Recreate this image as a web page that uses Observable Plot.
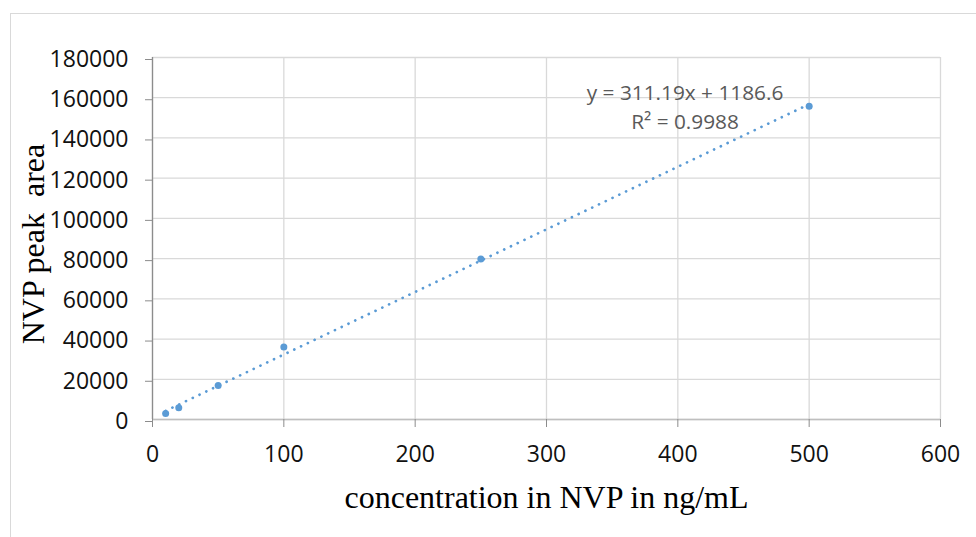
<!DOCTYPE html>
<html>
<head>
<meta charset="utf-8">
<script src="https://cdn.jsdelivr.net/npm/d3@7"></script>
<script src="https://cdn.jsdelivr.net/npm/@observablehq/plot@0.6"></script>
<style>
  html, body { margin: 0; padding: 0; background: #fff; }
  #wrap { position: relative; width: 976px; height: 537px; overflow: hidden; background: #fff; }
  #frame { position: absolute; left: 10px; top: 13px; width: 980px; height: 540px; border: 1px solid #d9d9d9; box-sizing: border-box; pointer-events: none; }
  #chart { position: absolute; left: 0; top: 0; }
</style>
</head>
<body>
<div id="wrap"><div id="frame"></div><div id="chart"></div></div>
<script>
// Data
const concentrations = [10, 20, 50, 100, 250, 500];
const peakAreas = [3000, 5800, 16900, 36000, 79800, 155800];
const xTicks = [0, 100, 200, 300, 400, 500, 600];
const yTicks = [0, 20000, 40000, 60000, 80000, 100000, 120000, 140000, 160000, 180000];
const slope = 311.19;
const intercept = 1186.6;
const trendRange = [10, 500];
const equationText = "y = 311.19x + 1186.6";
const r2Text = "R² = 0.9988";
const xTitle = "concentration in NVP in ng/mL";
const yTitle = "NVP peak\u00a0 area";

const points = concentrations.map((c, i) => ({x: c, y: peakAreas[i]}));
const trend = trendRange.map(x => ({x, y: slope * x + intercept}));

const blue = "#5B9BD5";
const chart = Plot.plot({
  width: 976,
  height: 537,
  marginLeft: 152,
  marginRight: 36,
  marginTop: 57,
  marginBottom: 118,
  style: {fontFamily: "'Open Sans', sans-serif", fontSize: "23px", color: "#111", background: "transparent", overflow: "visible"},
  x: {domain: [0, 600]},
  y: {domain: [0, 180000]},
  marks: [
    Plot.gridX(xTicks, {stroke: "#d9d9d9", strokeOpacity: 1, strokeWidth: 1.3}),
    Plot.gridY(yTicks, {stroke: "#d9d9d9", strokeOpacity: 1, strokeWidth: 1.3}),
    Plot.ruleY([0], {stroke: "#bfbfbf", strokeWidth: 1.3}),
    Plot.ruleX([0], {stroke: "#8c8c8c", strokeWidth: 1.3}),
    Plot.axisX(xTicks, {tickSize: 8, tickPadding: 18, tickFormat: d => String(d), label: null, stroke: "#8c8c8c", fill: "#111"}),
    Plot.axisY(yTicks, {tickSize: 7, tickPadding: 17, tickFormat: d => String(d), label: null, stroke: "#8c8c8c", fill: "#111", dy: 2}),
    Plot.line(trend, {x: "x", y: "y", stroke: blue, strokeWidth: 2.7, strokeDasharray: "0.1,7.4", strokeLinecap: "round"}),
    Plot.dot(points, {x: "x", y: "y", r: 3.5, fill: blue}),
    Plot.text([equationText], {x: 405.5, y: 162000, text: d => d, fill: "#595959", fontSize: 20.8, textAnchor: "middle", lineAnchor: "middle", fontFamily: "'Open Sans', sans-serif"}),
    Plot.text([r2Text], {x: 405.5, y: 148000, text: d => d, fill: "#595959", fontSize: 20.8, textAnchor: "middle", lineAnchor: "middle", fontFamily: "'Open Sans', sans-serif"}),
    Plot.text([xTitle], {frameAnchor: "bottom", text: d => d, dy: 78.5, textAnchor: "middle", lineAnchor: "middle", fontSize: 32, fontFamily: "'Liberation Serif', 'Times New Roman', serif", fill: "#000"}),
    Plot.text([yTitle], {frameAnchor: "left", text: d => d, dx: -119, dy: 5.5, rotate: -90, textAnchor: "middle", lineAnchor: "middle", fontSize: 32, fontFamily: "'Liberation Serif', 'Times New Roman', serif", fill: "#000"})
  ]
});
document.getElementById("chart").appendChild(chart);
</script>
</body>
</html>
